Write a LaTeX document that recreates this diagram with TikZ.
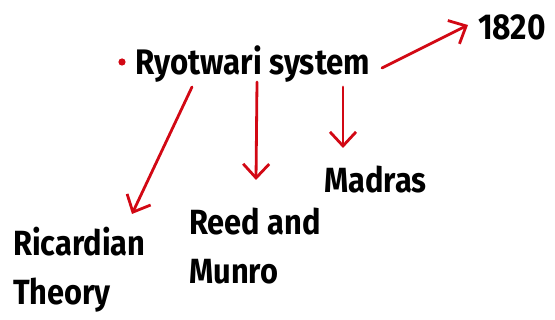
\documentclass[tikz,border=0pt]{standalone}
\usepackage{fontspec}
\setmainfont{Fira Sans}[FakeStretch=0.88]
\usetikzlibrary{arrows.meta}
\definecolor{pen}{RGB}{210,8,20}

\begin{document}
\begin{tikzpicture}[x=1pt, y=-1pt,
		label/.style={anchor=base west, inner sep=0pt, font=\fontsize{35}{49}\selectfont\bfseries, align=left},
		link/.style={draw=pen, line width=2.8pt, line cap=round, line join=round, -{Straight Barb[length=14pt, width=26pt, line width=2.8pt]}}]
	\useasboundingbox (0,0) rectangle (555,320);
	% bullet and main title
	\fill[pen] (122,62) circle (3.6);
	\node[label, font=\fontsize{35.5}{40}\selectfont\bfseries] (title) at (135,75) {Ryotwari system};
	\node[label, font=\fontsize{36}{40}\selectfont\bfseries] (year) at (478,40) {1820};
	% the three labels below (anchored on their last line)
	\node[label] (ricardian) at (13,305) {Ricardian\\Theory};
	\node[label] (reed) at (189,284) {Reed and\\Munro};
	\node[label] (madras) at (324,193) {Madras};
	% arrow ends
	\coordinate (t0) at (382,68);
	\coordinate (t1) at (192,87);
	\coordinate (t2) at (257,82);
	\coordinate (t3) at (343,87);
	\coordinate (y0) at (468,25);
	\coordinate (r1) at (132,214);
	\coordinate (r2) at (256,180);
	\coordinate (r3) at (343,148);
	\draw[link] (t0) -- (y0);
	\draw[link] (t1) -- (r1);
	\draw[link] (t2) -- (r2);
	\draw[link] (t3) -- (r3);
\end{tikzpicture}
\end{document}
